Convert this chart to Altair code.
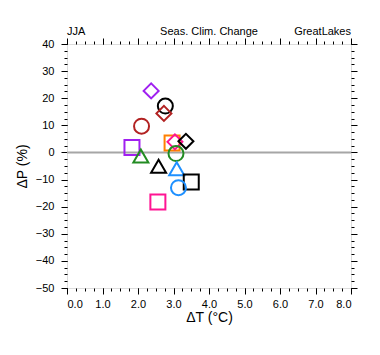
import altair as alt
import pandas as pd

# ---- data ----
dT = [2.37, 2.77, 2.73, 2.10, 1.83, 2.96, 3.04, 3.35, 3.07, 2.08, 2.58, 3.09, 3.50, 3.14, 2.56]
dP = [22.7, 17.1, 14.4, 9.7, 1.8, 3.5, 3.9, 4.1, -0.4, -1.3, -5.1, -6.0, -10.9, -13.0, -18.3]
shapes = ["diamond", "circle", "diamond", "circle", "square", "square", "diamond", "diamond",
          "circle", "triangle-up", "triangle-up", "triangle-up", "square", "circle", "square"]
colors = ["#a020f0", "#000000", "#b22222", "#b22222", "#a020f0", "#ff8000", "#ff1493", "#000000",
          "#228b22", "#228b22", "#000000", "#1e90ff", "#000000", "#1e90ff", "#ff1493"]

x_major = [0, 1, 2, 3, 4, 5, 6, 7, 8]
y_major = [40, 30, 20, 10, 0, -10, -20, -30, -40, -50]
x_minor = [i * 0.25 for i in range(0, 33)]
y_minor = [-50 + i * 2.5 for i in range(0, 37)]

title_left = "JJA"
title_center = "Seas. Clim. Change"
title_right = "GreatLakes"
x_title = "ΔT (°C)"
y_title = "ΔP (%)"
zero_line = [0]

W, H = 284, 244
FONT = "Liberation Sans"

df = pd.DataFrame({"dT": dT, "dP": dP, "shape": shapes, "color": colors, "order": list(range(len(dT)))})

xs = alt.Scale(domain=[0, 8], nice=False, zero=False)
ys = alt.Scale(domain=[-50, 40], nice=False, zero=False)

def ax(orient, values, size):
    return alt.Axis(orient=orient, values=values, tickSize=size, labels=False, domain=False,
                    grid=False, tickColor="black", tickWidth=1, title=None)

base = alt.Chart(df)

zero = alt.Chart(pd.DataFrame({"z": zero_line})).mark_rule(color="#a6a6a6", strokeWidth=2).encode(
    y=alt.Y("z:Q", scale=ys, axis=None)
)

points = base.mark_point(filled=False, strokeWidth=2, size=225, opacity=1).encode(
    x=alt.X("dT:Q", scale=xs, axis=alt.Axis(
        orient="bottom", values=x_major, format=".1f", tickSize=6, domain=False, grid=False,
        tickColor="black", labelFont=FONT, labelFontSize=11, labelColor="black", labelPadding=4,
        title=x_title, titleFont=FONT, titleFontSize=14, titleFontWeight="normal",
        titleColor="black", titlePadding=1)),
    y=alt.Y("dP:Q", scale=ys, axis=alt.Axis(
        orient="left", values=y_major, format="d", tickSize=6, domain=False, grid=False,
        tickColor="black", labelFont=FONT, labelFontSize=11, labelColor="black", labelPadding=7,
        title=y_title, titleFont=FONT, titleFontSize=14, titleFontWeight="normal",
        titleColor="black", titlePadding=6)),
    shape=alt.Shape("shape:N", scale=None),
    color=alt.Color("color:N", scale=None),
    order=alt.Order("order:Q"),
)

minor_lb = base.mark_point(opacity=0).encode(
    x=alt.X("dT:Q", scale=xs, axis=ax("bottom", x_minor, 3)),
    y=alt.Y("dP:Q", scale=ys, axis=ax("left", y_minor, 3)),
)
major_tr = base.mark_point(opacity=0).encode(
    x=alt.X("dT:Q", scale=xs, axis=ax("top", x_major, 6)),
    y=alt.Y("dP:Q", scale=ys, axis=ax("right", y_major, 6)),
)
minor_tr = base.mark_point(opacity=0).encode(
    x=alt.X("dT:Q", scale=xs, axis=ax("top", x_minor, 3)),
    y=alt.Y("dP:Q", scale=ys, axis=ax("right", y_minor, 3)),
)

def label(txt, xpos, align):
    return alt.Chart(pd.DataFrame({"t": [txt]})).mark_text(
        align=align, baseline="alphabetic", font=FONT, fontSize=11, color="black"
    ).encode(x=alt.value(xpos), y=alt.value(-9), text="t:N")

chart = alt.layer(
    zero, points, minor_lb, major_tr, minor_tr,
    label(title_left, 0, "left"), label(title_center, W / 2, "center"), label(title_right, W, "right"),
).resolve_axis(x="independent", y="independent").properties(
    width=W, height=H,
    autosize=alt.AutoSizeParams(type="none"),
    padding={"left": 67, "top": 44, "right": 29, "bottom": 67},
).configure_view(stroke="black", strokeWidth=1).configure(background="white")

chart.save("out.html", embed_options={"renderer": "svg", "actions": False})
